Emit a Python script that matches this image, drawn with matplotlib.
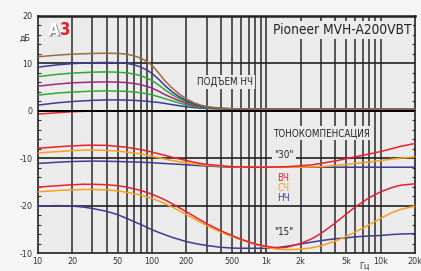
import numpy as np
import matplotlib
matplotlib.use("Agg")
import matplotlib.pyplot as plt
import matplotlib.patheffects as pe

plt.rcParams['font.family'] = ['DejaVu Sans']
plt.rcParams['font.stretch'] = 'condensed'

# bass boost ("ПОДЪЕМ НЧ") curves
f_boost = [10, 15, 20, 30, 40, 50, 60, 70, 80, 90, 100, 115, 130, 150, 170, 200, 230, 270, 320, 400, 500, 700, 1000, 20000]
boost_brown = [11.4, 11.75, 11.95, 12.1, 12.15, 12.1, 11.95, 11.6, 11.1, 10.4, 9.6, 7.9, 6.3, 4.8, 3.7, 2.5, 1.75, 1.15, 0.8, 0.55, 0.45, 0.4, 0.4, 0.4]
boost_navy = [9.2, 9.7, 9.95, 10.15, 10.2, 10.15, 10.0, 9.7, 9.2, 8.6, 7.9, 6.6, 5.3, 4.0, 3.1, 2.1, 1.5, 1.0, 0.7, 0.5, 0.42, 0.4, 0.4, 0.4]
boost_green = [7.2, 7.7, 7.95, 8.15, 8.2, 8.15, 8.0, 7.75, 7.4, 6.9, 6.4, 5.4, 4.4, 3.4, 2.7, 1.9, 1.35, 0.9, 0.65, 0.48, 0.42, 0.4, 0.4, 0.4]
boost_magenta = [5.2, 5.65, 5.9, 6.05, 6.1, 6.05, 5.95, 5.75, 5.5, 5.15, 4.8, 4.1, 3.4, 2.75, 2.2, 1.6, 1.15, 0.8, 0.6, 0.46, 0.41, 0.4, 0.4, 0.4]
boost_green2 = [3.3, 3.75, 3.95, 4.15, 4.2, 4.15, 4.1, 3.95, 3.8, 3.6, 3.35, 2.95, 2.55, 2.1, 1.7, 1.25, 0.95, 0.7, 0.55, 0.45, 0.41, 0.4, 0.4, 0.4]
boost_navy2 = [1.2, 1.7, 1.95, 2.2, 2.3, 2.3, 2.25, 2.2, 2.1, 2.0, 1.9, 1.75, 1.55, 1.3, 1.1, 0.85, 0.7, 0.55, 0.47, 0.42, 0.4, 0.4, 0.4, 0.4]
boost_red = [-0.7, -0.4, -0.2, -0.05, 0, 0, 0, 0, 0, 0, 0, 0, 0, 0, 0, 0, 0, 0, 0, 0, 0, 0, 0, 0]

# loudness ("ТОНОКОМПЕНСАЦИЯ") curves, "30" and "15"
f_loud = [10, 15, 20, 25, 30, 40, 50, 60, 80, 100, 125, 150, 200, 250, 300, 400, 500, 600, 800,
          1000, 1250, 1500, 2000, 2500, 3000, 4000, 5000, 6000, 8000, 10000, 12500, 15000, 20000]
l30_hi = [-7.9, -7.6, -7.4, -7.3, -7.25, -7.3, -7.5, -7.7, -8.2, -8.7, -9.3, -9.8, -10.5, -11.0, -11.3, -11.6, -11.8,
          -11.85, -11.9, -11.9, -11.85, -11.8, -11.6, -11.4, -11.1, -10.6, -10.1, -9.7, -9.1, -8.6, -8.0, -7.5, -6.9]
l30_mid = [-8.9, -8.6, -8.4, -8.3, -8.3, -8.35, -8.5, -8.7, -9.1, -9.6, -10.1, -10.5, -11.0, -11.3, -11.5, -11.7, -11.8,
           -11.9, -11.9, -11.9, -11.9, -11.9, -11.9, -11.85, -11.8, -11.55, -11.3, -11.1, -10.8, -10.5, -10.2, -10.0, -9.7]
l30_lo = [-11.1, -10.85, -10.7, -10.65, -10.6, -10.65, -10.7, -10.75, -10.85, -10.95, -11.1, -11.2, -11.4, -11.55, -11.65,
          -11.8, -11.9, -11.9, -11.9, -11.9, -11.9, -11.9, -11.9, -11.9, -11.9, -11.9, -11.9, -11.9, -11.9, -11.9, -11.9, -11.9, -11.9]
l15_hi = [-16.1, -15.8, -15.6, -15.5, -15.5, -15.6, -15.8, -16.1, -16.8, -17.6, -18.6, -19.6, -21.3, -22.7, -23.8, -25.3, -26.3,
          -27.1, -28.1, -28.6, -28.9, -28.8, -28.0, -27.0, -25.9, -23.7, -21.8, -20.3, -18.3, -17.1, -16.2, -15.7, -15.4]
l15_mid = [-17.1, -16.8, -16.7, -16.6, -16.6, -16.7, -16.9, -17.2, -17.8, -18.5, -19.4, -20.3, -21.9, -23.2, -24.2, -25.6, -26.5,
           -27.2, -28.2, -28.8, -29.2, -29.3, -29.2, -28.9, -28.5, -27.5, -26.5, -25.6, -24.0, -22.7, -21.5, -20.8, -20.1]
l15_lo = [-20.1, -20.0, -20.1, -20.3, -20.6, -21.2, -21.9, -22.7, -24.0, -25.1, -26.0, -26.7, -27.6, -28.1, -28.4, -28.8, -28.95,
          -29.0, -29.0, -29.0, -28.85, -28.6, -28.1, -27.7, -27.4, -27.0, -26.8, -26.6, -26.4, -26.3, -26.1, -26.0, -25.9]

xtick_vals = [10, 20, 50, 100, 200, 500, 1000, 2000, 5000, 10000, 20000]
xtick_labels = ['10', '20', '50', '100', '200', '500', '1k', '2k', '5k', '10k', '20k']
ytick_vals = [20, 10, 0, -10, -20, -30]
ytick_labels = ['20', '10', '0', '-10', '-20', '-10']

RED = '#e8202e'
ORANGE = '#f5a01e'
NAVY = '#3d3a92'
BROWN = '#9a6b40'
GREEN = '#2fa83a'
MAGENTA = '#a0267e'
BG = '#ebebeb'

fig = plt.figure(figsize=(4.21, 2.71), dpi=100)
fig.patch.set_facecolor('#f5f5f5')
ax = fig.add_axes([0.0896, 0.0664, 0.896, 0.8746])
ax.set_facecolor(BG)
ax.set_xscale('log')
ax.set_xlim(10, 20000)
ax.set_ylim(-30, 20)

# grid
for dec in [10, 100, 1000, 10000]:
    for m in range(1, 10):
        v = dec * m
        if 10 < v < 20000:
            ax.axvline(v, color='#3a3a3a', lw=1.2, zorder=1)
for y in [10, -10, -20]:
    ax.axhline(y, color='#222222', lw=1.2, zorder=1)
ax.axhline(0, color='black', lw=1.4, zorder=3)

lw = 1.1
ax.plot(f_boost, boost_red, color=RED, lw=lw, zorder=2)
ax.plot(f_boost, boost_navy2, color=NAVY, lw=lw, zorder=4)
ax.plot(f_boost, boost_green2, color=GREEN, lw=lw, zorder=4)
ax.plot(f_boost, boost_magenta, color=MAGENTA, lw=lw, zorder=4)
ax.plot(f_boost, boost_green, color=GREEN, lw=lw, zorder=4)
ax.plot(f_boost, boost_navy, color=NAVY, lw=lw, zorder=4)
ax.plot(f_boost, boost_brown, color=BROWN, lw=lw, zorder=4)

ax.plot(f_loud, l30_lo, color=NAVY, lw=lw, zorder=4)
ax.plot(f_loud, l30_mid, color=ORANGE, lw=lw, zorder=4)
ax.plot(f_loud, l30_hi, color=RED, lw=lw, zorder=4)
ax.plot(f_loud, l15_lo, color=NAVY, lw=lw, zorder=4)
ax.plot(f_loud, l15_mid, color=ORANGE, lw=lw, zorder=4)
ax.plot(f_loud, l15_hi, color=RED, lw=lw, zorder=4)

box = dict(facecolor=BG, edgecolor='none', pad=1.5)
ax.text(0.99, 0.94, 'Pioneer MVH-A200VBT', transform=ax.transAxes, ha='right', va='center',
        fontsize=9.8, color='#222222', bbox=box, zorder=5)
ax.text(0.422, 0.72, 'ПОДЪЕМ НЧ', transform=ax.transAxes, ha='left', va='center',
        fontsize=7, color='#222222', bbox=box, zorder=5)
ax.text(0.624, 0.506, 'ТОНОКОМПЕНСАЦИЯ', transform=ax.transAxes, ha='left', va='center',
        fontsize=7, color='#222222', bbox=box, zorder=5)
ax.text(0.653, 0.413, '"30"', transform=ax.transAxes, ha='center', va='center',
        fontsize=7, color='#222222', bbox=box, zorder=5)
ax.text(0.653, 0.09, '"15"', transform=ax.transAxes, ha='center', va='center',
        fontsize=7, color='#222222', bbox=box, zorder=5)
ax.text(0.635, 0.316, 'ВЧ', transform=ax.transAxes, ha='left', va='center',
        fontsize=7, color=RED, bbox=box, zorder=5)
ax.text(0.635, 0.274, 'СЧ', transform=ax.transAxes, ha='left', va='center',
        fontsize=7, color=ORANGE, bbox=box, zorder=5)
ax.text(0.635, 0.232, 'НЧ', transform=ax.transAxes, ha='left', va='center',
        fontsize=7, color=NAVY, bbox=box, zorder=5)

# logo
ax.text(0.027, 0.94, 'А', transform=ax.transAxes, ha='left', va='center', fontsize=12,
        fontweight='bold', color='white', zorder=6,
        path_effects=[pe.withSimplePatchShadow(offset=(1, -1), shadow_rgbFace='#777777', alpha=0.8)])
ax.text(0.058, 0.94, '3', transform=ax.transAxes, ha='left', va='center', fontsize=12,
        fontweight='bold', color='#d8232a', zorder=6)

ax.set_xticks(xtick_vals)
ax.set_xticklabels(xtick_labels)
ax.xaxis.set_minor_locator(matplotlib.ticker.NullLocator())
ax.set_yticks(ytick_vals)
ax.set_yticklabels(ytick_labels)
ax.set_yticks(np.arange(-30, 21, 2), minor=True)
ax.tick_params(axis='x', length=0, labelsize=6.5, colors='#333333', pad=3)
ax.tick_params(axis='y', which='major', length=0, labelsize=6.5, colors='#333333', pad=4)
ax.tick_params(axis='y', which='minor', direction='in', length=2, width=0.8, color='#333333',
               left=True, right=True)
ax.text(-0.018, 0.905, 'дБ', transform=ax.transAxes, ha='right', va='center', fontsize=6.5, color='#333333')
ax.text(0.866, -0.055, 'Гц', transform=ax.transAxes, ha='center', va='center', fontsize=6.5, color='#333333')

for side in ['left', 'bottom', 'right']:
    ax.spines[side].set_color('#222222')
    ax.spines[side].set_linewidth(1.2)
ax.spines['top'].set_color('#222222')
ax.spines['top'].set_linewidth(1.8)

fig.savefig('out.png', dpi=100, facecolor=fig.get_facecolor())
